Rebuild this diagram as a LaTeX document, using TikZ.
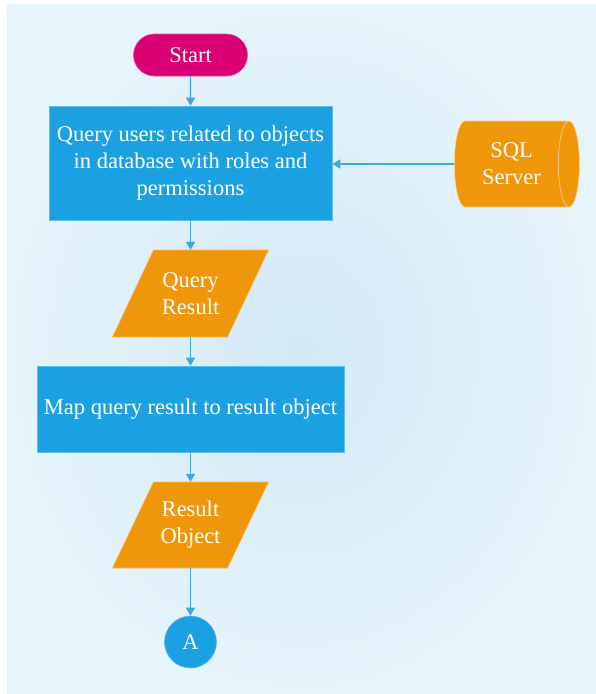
\documentclass[tikz,border=0pt]{standalone}
\usepackage{fontspec}
\setmainfont{Liberation Serif}
\usetikzlibrary{shapes.geometric,shapes.misc,arrows.meta,calc}

\definecolor{bgin}{HTML}{D3E9F6}
\definecolor{bgout}{HTML}{E6F4FB}
\definecolor{startmag}{HTML}{D80073}
\definecolor{procblue}{HTML}{1BA1E2}
\definecolor{dataorange}{HTML}{F0960A}
\definecolor{linkblue}{HTML}{3FA8DF}

\tikzset{
  every node/.style={font=\rmfamily\fontsize{22.5}{27}\selectfont, text=white, align=center, inner sep=0pt},
  terminal/.style={rounded rectangle, fill=startmag, draw=startmag!70!white, line width=0.6pt,
    minimum width=114pt, minimum height=42pt},
  process/.style={rectangle, fill=procblue, draw=procblue!70!white, line width=0.6pt},
  iobox/.style={rectangle, minimum width=115pt, minimum height=87pt},
  iofill/.style={fill=dataorange, draw=dataorange!65!white, line width=0.6pt},
  store/.style={cylinder, shape aspect=0.5, cylinder uses custom fill,
    cylinder body fill=dataorange, cylinder end fill=dataorange,
    draw=dataorange!45!white, line width=0.6pt,
    minimum width=86pt, minimum height=125pt},
  connector/.style={circle, fill=procblue, draw=procblue!70!white, line width=0.6pt, minimum size=52pt},
  flow/.style={draw=linkblue, line width=1.3pt, -{Triangle[length=8pt,width=9pt]}}
}

\begin{document}
\begin{tikzpicture}[x=1pt, y=-1pt]
  % canvas and soft backdrop
  \useasboundingbox (0,0) rectangle (596,694);
  \fill[white] (0,0) rectangle (596,694);
  \shade[inner color=bgin, outer color=bgout] (7,4) rectangle (596,694);

  % process steps
  \node[terminal] (start) at (190.5,55) {Start};
  \node[process, minimum width=283pt, minimum height=114pt] (query) at (190.5,163)
    {Query users related to objects\\in database with roles and\\permissions};
  \node[store] (sql) at (511.5,164) {SQL\\Server};

  % input/output parallelograms
  \coordinate (qrc) at (190.5,293.5);
  \fill[iofill] ($(qrc)+(-37,-43.5)$) -- ($(qrc)+(78,-43.5)$) -- ($(qrc)+(37,43.5)$) -- ($(qrc)+(-78,43.5)$) -- cycle;
  \node[iobox] (qres) at (qrc) {Query\\Result};

  \node[process, minimum width=307pt, minimum height=86pt] (map) at (190.5,409)
    {Map query result to result object};

  \coordinate (roc) at (190.5,525);
  \fill[iofill] ($(roc)+(-37,-43)$) -- ($(roc)+(78,-43)$) -- ($(roc)+(37,43)$) -- ($(roc)+(-78,43)$) -- cycle;
  \node[iobox, minimum height=86pt] (robj) at (roc) {Result\\Object};

  \node[connector] (a) at (190.5,642) {A};

  % flow lines
  \draw[flow] (start) -- (query);
  \draw[flow] (sql.west) -- (sql.west -| query.east);
  \draw[flow] (query) -- (qres);
  \draw[flow] (qres) -- (map);
  \draw[flow] (map) -- (robj);
  \draw[flow] (robj) -- (a);
\end{tikzpicture}
\end{document}
